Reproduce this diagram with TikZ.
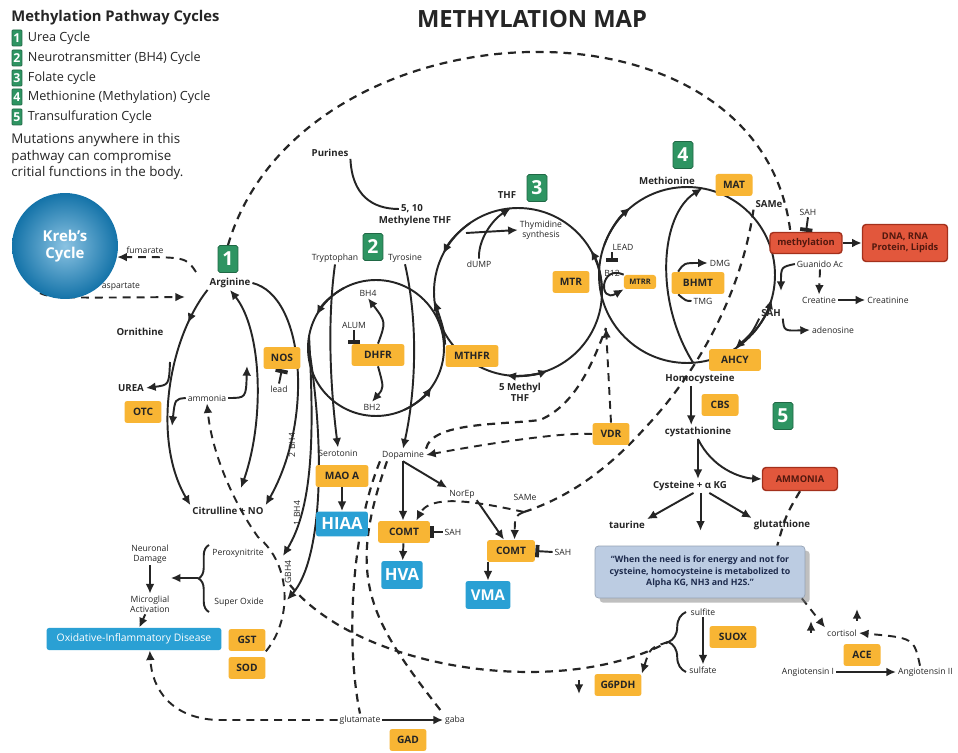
\documentclass[tikz,border=0pt]{standalone}
\usepackage{fontspec}
\setmainfont{Open Sans}
\usetikzlibrary{arrows.meta, positioning, backgrounds, shadows, decorations.pathreplacing, decorations.markings}
\definecolor{enzyme}{HTML}{F8B534}
\definecolor{cyclegreen}{HTML}{2E9462}
\definecolor{prodblue}{HTML}{2AA0D4}
\definecolor{krebs}{HTML}{1787C6}
\definecolor{alert}{HTML}{E2573C}
\definecolor{alertdark}{HTML}{A3301C}
\definecolor{quotebg}{HTML}{BCCCE2}
\definecolor{quotetext}{HTML}{1E2B4D}
\definecolor{ink}{HTML}{252525}
\tikzset{
  metab/.style={font=\fontsize{5.5}{6.4}\selectfont\bfseries, text=ink, inner sep=1pt, align=center},
  minor/.style={font=\fontsize{4.9}{5.6}\selectfont, text=ink, inner sep=1pt, align=center},
  enz/.style={
    rectangle, rounded corners=1.5pt,
    minimum width=0.74cm, minimum height=0.44cm,
    inner xsep=3pt, inner ysep=1pt, fill=enzyme, text=ink,
    font=\fontsize{5.8}{6.5}\selectfont\bfseries,
  },
  numbox/.style={
    rectangle, rounded corners=1pt,
    minimum width=0.4cm, minimum height=0.54cm, inner sep=0pt,
    fill=cyclegreen, draw=cyclegreen!70!black, text=white,
    font=\fontsize{11}{11}\selectfont\bfseries,
  },
  legnum/.style={numbox, minimum width=0.2cm, minimum height=0.32cm,
    rounded corners=0.5pt, font=\fontsize{7}{7}\selectfont\bfseries},
  legtext/.style={font=\fontsize{7.2}{8}\selectfont, text=ink, inner sep=1pt},
  product/.style={
    rectangle, rounded corners=1.5pt,
    minimum width=0.74cm, minimum height=0.5cm, inner xsep=2pt,
    fill=prodblue, text=white, font=\fontsize{9.5}{10}\selectfont\bfseries,
  },
  alertbox/.style={
    rectangle, rounded corners=2pt, minimum height=0.42cm, align=center,
    fill=alert, draw=alertdark, thick, text=alertdark!50!black,
    font=\fontsize{5.3}{6.2}\selectfont\bfseries,
  },
  quotebox/.style={
    rectangle, rounded corners=2pt, minimum width=4.2cm, minimum height=1.04cm,
    fill=quotebg, draw=quotebg!80!black, drop shadow, align=center,
    text=quotetext, font=\fontsize{5}{6.6}\selectfont\bfseries,
  },
  cyc/.style={circle, draw=ink, line width=1.1pt, inner sep=0pt, outer sep=0pt},
  arrow/.style={-{Latex[length=5.5pt,width=5pt]}, line width=1.1pt, draw=ink},
  twoway/.style={{Latex[length=5.5pt,width=5pt]}-{Latex[length=5.5pt,width=5pt]}, line width=1.1pt, draw=ink},
  plain/.style={line width=1.1pt, draw=ink},
  dsh/.style={line width=1.25pt, draw=ink, dash pattern=on 4.5pt off 3.4pt},
  inhib/.style={-{Bar[width=7pt,line width=2.2pt]}, line width=1.1pt, draw=ink},
  midarrow/.style={postaction={decorate}, decoration={markings,
    mark=at position #1 with {\arrow{Latex[length=5.5pt,width=5pt]}}}},
}

\begin{document}
\begin{tikzpicture}[x=0.02cm, y=-0.02cm]

  \useasboundingbox (0,0) rectangle (958,753);
  \begin{scope}[on background layer]
    \fill[white] (0,0) rectangle (958,753);
  \end{scope}

  \node[font=\fontsize{8.4}{9}\selectfont\bfseries, text=ink, anchor=west, inner sep=0pt] (legtitle) at (11,18) {Methylation Pathway Cycles};
  \node[legnum] (leg1) at (17,38) {1};
  \node[legtext, right=2pt of leg1] (legurea) {Urea Cycle};
  \node[legnum] (leg2) at (17,58) {2};
  \node[legtext, right=2pt of leg2] (legbh) {Neurotransmitter (BH4) Cycle};
  \node[legnum] (leg3) at (17,78) {3};
  \node[legtext, right=2pt of leg3] (legfol) {Folate cycle};
  \node[legnum] (leg4) at (17,97) {4};
  \node[legtext, right=2pt of leg4] (legmet) {Methionine (Methylation) Cycle};
  \node[legnum] (leg5) at (17,117) {5};
  \node[legtext, right=2pt of leg5] (legtrans) {Transulfuration Cycle};
  \node[font=\fontsize{7.6}{9.4}\selectfont, text=ink, anchor=north west, align=left, inner sep=0pt] (note) at (11,133) {Mutations anywhere in this\\pathway can compromise\\critial functions in the body.};
  \node[font=\fontsize{13.5}{15}\selectfont\bfseries, text=ink] (title) at (532,19) {METHYLATION MAP};

  \node[cyc, minimum size=2.72cm] (bhcyc) at (376,348) {};
  \node[cyc, minimum size=3.36cm] (folcyc) at (518,292) {};
  \node[cyc, minimum size=3.52cm] (metcyc) at (687,275) {};

  \node[circle, minimum size=2.12cm, inner sep=0pt, shading=radial, inner color=krebs!50!white, outer color=krebs!85!black, text=white, font=\fontsize{8.5}{10}\selectfont\bfseries, align=center] (krebs) at (65,246) {Kreb's\\Cycle};

  \node[numbox] (n1) at (228,259) {1};
  \node[metab] (arg) at (230,283) {Arginine};
  \node[minor] (fumlbl) at (145,250) {fumarate};
  \node[minor] (asplbl) at (121,287) {aspartate};
  \node[metab] (orn) at (140,332) {Ornithine};
  \node[metab] (urea) at (131,388) {UREA};
  \node[enz] (otc) at (143,412) {OTC};
  \node[minor] (ammonia) at (207,398) {ammonia};
  \node[enz] (nos) at (282,358) {NOS};
  \node[minor] (lead1) at (279,389) {lead};
  \node[metab] (citno) at (228,511) {Citrulline + NO};
  \node[minor, rotate=90] (lbltwo) at (292,445) {2 BH4};
  \node[minor, rotate=90] (lblone) at (297,513) {1 BH4};
  \node[minor, rotate=90] (lblg) at (288,572) {GBH4};

  \node[minor] (perox) at (238,553) {Peroxynitrite};
  \node[minor] (superox) at (239,602) {Super Oxide};
  \node[minor] (neuro) at (150,554) {Neuronal\\Damage};
  \node[minor] (micro) at (150,604) {Microglial\\Activation};
  \node[rectangle, rounded corners=1.5pt, fill=prodblue, text=white, minimum width=3.5cm, minimum height=0.36cm, inner xsep=2pt, font=\fontsize{5.9}{6.5}\selectfont] (oid) at (134,639) {Oxidative-Inflammatory Disease};
  \node[enz] (gst) at (247,640) {GST};
  \node[enz] (sod) at (247,668) {SOD};
  \node[minor] (glut) at (360,720) {glutamate};
  \node[minor] (gaba) at (455,720) {gaba};
  \node[enz] (gad) at (408,740) {GAD};

  \node[metab] (purines) at (330,153) {Purines};
  \node[metab] (fiveten) at (412,209) {5, 10};
  \node[metab] (methylene) at (415,221) {Methylene THF};
  \node[numbox] (n2) at (373,247) {2};
  \node[minor] (tryp) at (335,258) {Tryptophan};
  \node[minor] (tyro) at (405,258) {Tyrosine};
  \node[minor] (bh4) at (368,293) {BH4};
  \node[minor] (bh2) at (372,407) {BH2};
  \node[minor] (alum) at (354,325) {ALUM};
  \node[enz, minimum width=1.06cm] (dhfr) at (378,355) {DHFR};
  \node[enz, minimum width=1.06cm] (mthfr) at (472,356) {MTHFR};

  \node[metab] (thf) at (507,195) {THF};
  \node[numbox] (n3) at (537,188) {3};
  \node[minor] (thym) at (541,230) {Thymidine\\synthesis};
  \node[minor] (dump) at (479,264) {dUMP};
  \node[enz] (mtr) at (571,282) {MTR};
  \node[metab] (methyl5) at (520,392) {5 Methyl\\THF};

  \node[numbox] (n4) at (683,155) {4};
  \node[metab] (methionine) at (667,181) {Methionine};
  \node[enz] (mat) at (734,185) {MAT};
  \node[metab] (samemet) at (769,204) {SAMe};
  \node[enz, minimum width=0.6cm, minimum height=0.28cm, font=\fontsize{4.3}{5}\selectfont\bfseries] (mtrr) at (640,282) {MTRR};
  \node[minor] (b12) at (612,273) {B12};
  \node[minor] (leadb) at (623,247) {LEAD};
  \node[enz, minimum width=1.06cm] (bhmt) at (698,283) {BHMT};
  \node[minor] (dmg) at (720,263) {DMG};
  \node[minor] (tmg) at (703,301) {TMG};
  \node[metab] (sahmet) at (771,313) {SAH};
  \node[enz, minimum width=1.04cm] (ahcy) at (735,360) {AHCY};
  \node[minor] (adeno) at (833,330) {adenosine};
  \node[metab] (hcy) at (700,379) {Homocysteine};
  \node[alertbox, minimum width=1.44cm] (methyl) at (806,243) {methylation};
  \node[alertbox, minimum width=1.7cm, minimum height=0.74cm] (dna) at (905,243) {DNA, RNA\\Protein, Lipids};
  \node[minor] (sahtop) at (808,212) {SAH};
  \node[minor] (guan) at (820,264) {Guanido Ac};
  \node[minor] (creatine) at (819,300) {Creatine};
  \node[minor] (creatinine) at (888,300) {Creatinine};

  \node[minor] (sero) at (338,453) {Serotonin};
  \node[enz, minimum width=1.06cm] (maoa) at (342,476) {MAO A};
  \node[product, minimum width=1.04cm] (hiaa) at (342,524) {HIAA};
  \node[minor] (dopa) at (403,455) {Dopamine};
  \node[enz, minimum width=1.04cm] (comta) at (404,532) {COMT};
  \node[minor] (sahA) at (453,532) {SAH};
  \node[product, minimum height=0.56cm] (hva) at (402,575) {HVA};
  \node[minor] (norep) at (462,494) {NorEp};
  \node[minor] (same1) at (525,497) {SAMe};
  \node[enz, minimum width=0.96cm] (comtb) at (511,551) {COMT};
  \node[minor] (sahB) at (563,552) {SAH};
  \node[product, minimum width=0.9cm, minimum height=0.56cm, font=\fontsize{8.5}{9}\selectfont\bfseries] (vma) at (488,595) {VMA};
  \node[enz] (vdr) at (611,434) {VDR};

  \node[enz] (cbs) at (720,405) {CBS};
  \node[numbox] (n5) at (783,416) {5};
  \node[metab] (cysta) at (698,432) {cystathionine};
  \node[metab] (cys) at (690,486) {Cysteine + α KG};
  \node[alertbox, minimum width=1.5cm, minimum height=0.46cm] (ammon) at (800,479) {AMMONIA};
  \node[metab] (taurine) at (627,525) {taurine};
  \node[metab] (gluta) at (782,525) {glutathione};
  \node[quotebox] (quote) at (700,572) {``When the need is for energy and not for\\cysteine, homocysteine is metabolized to\\Alpha KG, NH3 and H2S.''};
  \node[minor] (sulfite) at (703,612) {sulfite};
  \node[minor] (sulfate) at (703,670) {sulfate};
  \node[enz, minimum width=0.94cm] (suox) at (733,637) {SUOX};
  \node[enz, minimum width=0.94cm] (g6pdh) at (618,685) {G6PDH};
  \node[minor] (cortisol) at (842,633) {cortisol};
  \node[enz] (ace) at (862,655) {ACE};
  \node[minor] (angi) at (808,672) {Angiotensin I};
  \node[minor, anchor=west] (angii) at (896,672) {Angiotensin II};

  \coordinate (fumsrc) at (196,272);
  \coordinate (aspend) at (185,297);
  \coordinate (ureafork) at (170,362);
  \coordinate (citin) at (241,488);
  \coordinate (ammup) at (247,366);
  \coordinate (ammdown) at (172,426);
  \coordinate (peroxin) at (283,556);
  \coordinate (superin) at (287,600);
  \coordinate (brtop) at (209,545);
  \coordinate (brbot) at (209,612);
  \coordinate (brtip) at (198,578);
  \coordinate (samefork) at (524,512);
  \coordinate (vdrup) at (606,328);
  \coordinate (thymsrc) at (466,233);
  \coordinate (b12bar) at (612,262);
  \coordinate (guanend) at (781,291);
  \coordinate (cortup) at (811,621);
  \coordinate (uptail) at (857,621);
  \coordinate (uptip) at (857,609);
  \coordinate (br2top) at (686,612);
  \coordinate (br2bot) at (686,672);
  \coordinate (br2tip) at (668,642);
  \coordinate (longsrc) at (290,585);
  \coordinate (smalltail) at (579,680);
  \coordinate (smalltip) at (579,694);

  \begin{scope}[on background layer]
    \draw[arrow] (bhcyc.center) ++(118:1.36cm) arc[start angle=118, end angle=151, radius=1.36cm];
    \draw[arrow] (bhcyc.center) ++(295:1.36cm) arc[start angle=295, end angle=325, radius=1.36cm];
    \draw[arrow] (folcyc.center) ++(125:1.68cm) arc[start angle=125, end angle=153, radius=1.68cm];
    \draw[arrow] (folcyc.center) ++(0:1.68cm) arc[start angle=0, end angle=30, radius=1.68cm];
    \draw[arrow] (folcyc.center) ++(270:1.68cm) arc[start angle=270, end angle=291, radius=1.68cm];
    \draw[arrow] (folcyc.center) ++(282:1.68cm) arc[start angle=282, end angle=262, radius=1.68cm];
    \draw[arrow] (metcyc.center) ++(160:1.76cm) arc[start angle=160, end angle=130, radius=1.76cm];
    \draw[arrow] (metcyc.center) ++(318:1.76cm) arc[start angle=318, end angle=344, radius=1.76cm];

    \draw[dsh, arrow] (fumsrc) .. controls (186,257) .. (krebs.-12);
    \draw[dsh, arrow] (krebs.-118) .. controls (52,298) .. (aspend);
    \draw[arrow, midarrow=0.17] (arg.south west) .. controls (168,340) and (152,440) .. (citno.north west);
    \draw[arrow] (ureafork) .. controls (169,385) .. (urea.east);
    \draw[twoway] (citin) .. controls (265,420) and (262,330) .. (arg.south);
    \draw[arrow] (ammonia.east) .. controls (246,398) .. (ammup);
    \draw[arrow] (ammonia.west) .. controls (175,399) .. (ammdown);
    \draw[inhib] (lead1.north) -- (nos.south);
    \draw[dsh, arrow] (gst.south east) .. controls (292,620) and (292,565) .. (258,537) .. controls (235,505) and (212,455) .. (ammonia.south);
    \draw[arrow] (arg.east) .. controls (305,296) and (314,420) .. (citno.north east);
    \draw[arrow] (bhcyc.170) .. controls (314,430) and (314,505) .. (peroxin);
    \draw[arrow] (bhcyc.176) .. controls (326,450) and (322,560) .. (superin);

    \draw[plain, decorate, decoration={brace, amplitude=6pt}] (brbot) -- (brtop);
    \draw[arrow] (brtip) -- (brtip -| neuro.east);
    \draw[arrow] (neuro) -- (micro);
    \draw[arrow] (micro) -- (oid);
    \draw[dsh, arrow] (glut.west) -- (217,720) .. controls (172,718) and (152,690) .. ([xshift=9pt]oid.south);
    \draw[arrow] (glut) -- (gaba);
    \draw[dsh] (dopa.south west) .. controls (352,530) and (345,640) .. (glut.north);
    \draw[dsh] ([xshift=4pt]dopa.south west) .. controls (345,580) and (370,620) .. (gaba.north west);
    \draw[dsh] (longsrc) .. controls (360,670) and (560,700) .. (br2tip);
    \draw[arrow] (smalltail) -- (smalltip);

    \draw[plain] (purines.south east) .. controls (352,195) and (372,209) .. (fiveten.west);
    \draw[arrow] (thymsrc) -- (thym.west);
    \draw[arrow] (dump.north) .. controls (478,240) and (492,220) .. (folcyc.95);
    \draw[arrow] (mthfr.north west) .. controls (444,330) .. (folcyc.186);
    \draw[arrow] (dhfr.north) .. controls (386,322) .. (bh4.south);
    \draw[arrow] (dhfr.south) .. controls (384,388) .. (bh2.north);
    \draw[inhib] (alum.south) -- (alum.south |- dhfr.north);
    \draw[arrow] (tryp.south) .. controls (326,330) and (332,400) .. (sero.north);
    \draw[arrow] (tyro.south) .. controls (420,330) and (414,400) .. (dopa.north);

    \draw[arrow] (maoa) -- (hiaa);
    \draw[arrow] (dopa.south) -- (dopa.south |- comta.north);
    \draw[arrow] (comta) -- (hva);
    \draw[inhib] (sahA.west) -- (comta.east);
    \draw[arrow] (dopa.south) -- (norep.north west);
    \draw[arrow] (norep.south east) -- ([xshift=-4pt]comtb.north);
    \draw[arrow] (comtb.south -| vma.north) -- (vma.north);
    \draw[inhib] (sahB.west) -- (comtb.east);
    \draw[dsh] (samemet.south west) .. controls (742,290) and (700,370) .. (645,428) .. controls (600,478) and (560,500) .. (samefork);
    \draw[dsh, arrow] (samefork) .. controls (515,516) .. ([xshift=2pt]comtb.north);
    \draw[dsh, arrow] (samefork) .. controls (470,500) and (430,495) .. ([xshift=-8pt]comta.north east);
    \draw[dsh, arrow] (vdr.west) .. controls (560,432) and (480,445) .. (dopa.east);
    \draw[dsh, arrow] (vdr.north) -- (vdrup);
    \draw[dsh] (dopa.north east) .. controls (432,422) and (500,425) .. (540,420) .. controls (575,405) and (592,365) .. (vdrup);

    \draw[arrow] (metcyc.-86) .. controls (654,300) and (660,215) .. (metcyc.80);
    \draw[arrow] (mtrr.north west) .. controls (600,264) and (598,304) .. (mtrr.south west);
    \draw[inhib] (leadb.south -| b12bar) -- (b12bar);
    \draw[arrow] ([xshift=4pt]bhmt.north west) .. controls (684,263) .. (dmg.west);
    \draw[plain] (tmg.west) .. controls (686,301) .. ([xshift=4pt]bhmt.south west);
    \draw[arrow] (sahmet.south west) .. controls (752,333) .. (ahcy.north);
    \draw[arrow] (sahmet.south east) .. controls (784,331) .. (adeno.west);
    \draw[arrow] (methyl) -- (dna);
    \draw[inhib] (sahtop.south) -- (methyl.north);
    \draw[arrow] (guan.west) .. controls (781,267) .. (guanend);
    \draw[dsh, arrow] (guan.south) -- (creatine.north);
    \draw[arrow] (creatine) -- (creatinine);
    \draw[dsh] (n1.north) .. controls (300,0) and (760,-20) .. ([xshift=12pt]methyl.north west);

    \draw[arrow] ([xshift=-5pt]hcy.south) -- ([xshift=-5pt]hcy.south |- cysta.north);
    \draw[arrow] (cysta.south) -- (cysta.south |- cys.north);
    \draw[arrow] (cysta.south) .. controls (712,468) and (740,478) .. (ammon.west);
    \draw[arrow] ([xshift=2pt]cys.south) -- (taurine.north east);
    \draw[arrow] ([xshift=6pt]cys.south) -- ([xshift=6pt]cys.south |- taurine.south);
    \draw[arrow] ([xshift=11pt]cys.south) -- (gluta.north west);
    \draw[dsh] (ammon.south) .. controls (786,515) .. ([xshift=-16pt]quote.north east);
    \draw[dsh, arrow] ([xshift=-2pt]quote.south east) -- (cortisol.north west);
    \draw[arrow] (cortisol.west -| cortup) -- (cortup);
    \draw[arrow] (uptail) -- (uptip);
    \draw[arrow] (angi) -- (angii);
    \draw[dsh, arrow] (angii.north -| 920,0) .. controls (914,638) .. (cortisol.east);
    \draw[plain, decorate, decoration={brace, amplitude=10pt}] (br2bot) -- (br2top);
    \draw[arrow] (sulfite.south) -- (sulfate.north);
    \draw[dsh, arrow] (br2tip) .. controls (650,648) .. (g6pdh.north east);
  \end{scope}

\end{tikzpicture}
\end{document}
